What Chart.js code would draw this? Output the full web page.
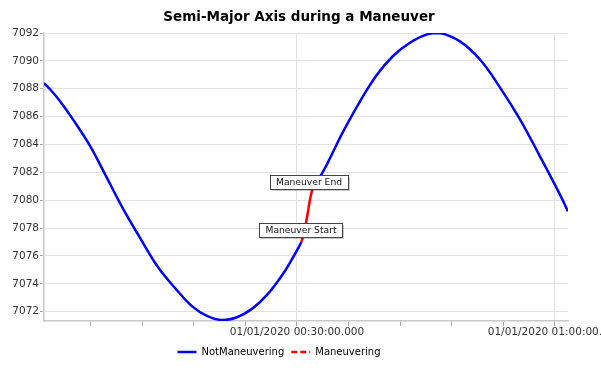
<!DOCTYPE html>
<html>
<head>
<meta charset="utf-8">
<title>Semi-Major Axis during a Maneuver</title>
<script src="https://cdn.jsdelivr.net/npm/chart.js@4.4.0/dist/chart.umd.min.js"></script>
<style>
  html, body { margin: 0; padding: 0; background: #fff; }
</style>
</head>
<body>
<canvas id="smaChart" width="601" height="373"></canvas>
<script>
// times are seconds after 01/01/2020 00:00:00, values in km
const quietTimes = [35, 91, 147, 237, 356, 474, 586, 705, 830, 949, 1067, 1172, 1277, 1381, 1486, 1591, 1702, 1800, 1831,
  1870,
  1912, 1974, 2044, 2121, 2240, 2358, 2470, 2588, 2707, 2798, 2937, 3077, 3216, 3356, 3495, 3635, 3691];
const quietValues = [7088.4, 7087.8, 7087.1, 7085.8, 7083.9, 7081.6, 7079.4, 7077.3, 7075.2, 7073.7, 7072.4, 7071.7, 7071.4, 7071.6, 7072.2, 7073.2, 7074.7, 7076.4, 7077.0,
  null,
  7081.0, 7081.9, 7083.3, 7084.9, 7087.1, 7089.0, 7090.35, 7091.3, 7091.9, 7092.0, 7091.4, 7090.1, 7088.1, 7085.8, 7083.15, 7080.4, 7079.2];

const maneuverTimes = [1831, 1852, 1872, 1892, 1912];
const maneuverValues = [7077.0, 7077.8, 7078.9, 7080.1, 7081.0];

const eventLabels = ["Maneuver Start", "Maneuver End"];
const eventTimes = [1831, 1912];
const eventValues = [7077.0, 7081.0];

const xTickTimes = [360, 720, 1080, 1440, 1800, 2160, 2520, 2880, 3240, 3600];
const xLabelTimes = [1800, 3600];
const xLabelTexts = ["01/01/2020 00:30:00.000", "01/01/2020 01:00:00.000"];

const yTickValues = [7072, 7073, 7074, 7075, 7076, 7077, 7078, 7079, 7080, 7081, 7082,
  7083, 7084, 7085, 7086, 7087, 7088, 7089, 7090, 7091, 7092];
const yLabelValues = [7072, 7074, 7076, 7078, 7080, 7082, 7084, 7086, 7088, 7090, 7092];

const toPoints = (times, values) => times.map((t, i) => ({ x: t, y: values[i] }));

Chart.defaults.font.family = "'DejaVu Sans', sans-serif";

// boxes on the event points, drawn over the curve
const eventLabelPlugin = {
  id: "eventLabels",
  afterDatasetsDraw(chart) {
    const { ctx, scales } = chart;
    const offsets = [[0, -12], [-4, -4]];
    ctx.save();
    ctx.font = "9.2px 'DejaVu Sans'";
    ctx.textAlign = "center";
    ctx.textBaseline = "middle";
    eventLabels.forEach((text, i) => {
      const cx = Math.round(scales.x.getPixelForValue(eventTimes[i]) + offsets[i][0]);
      const cy = Math.round(scales.y.getPixelForValue(eventValues[i]) + offsets[i][1]);
      const w = Math.round(ctx.measureText(text).width + 12);
      const h = 14;
      const left = cx - Math.round(w / 2) + 0.5;
      const top = cy - h / 2 + 0.5;
      ctx.fillStyle = "rgba(0,0,0,0.2)";
      ctx.fillRect(left + 1.5, top + 1.5, w, h);
      ctx.fillStyle = "#fff";
      ctx.fillRect(left, top, w, h);
      ctx.strokeStyle = "#444";
      ctx.lineWidth = 1;
      ctx.strokeRect(left, top, w, h);
      ctx.fillStyle = "#111";
      ctx.fillText(text, cx, cy + 0.5);
    });
    ctx.restore();
  },
};

// title and legend are not centred on the same line in the original
const boxShiftPlugin = {
  id: "boxShift",
  afterLayout(chart) {
    chart.titleBlock.left += 15;
    chart.titleBlock.right += 15;
    chart.legend.left -= 5;
    chart.legend.right -= 5;
  },
};

new Chart(document.getElementById("smaChart"), {
  type: "line",
  data: {
    datasets: [
      {
        label: "NotManeuvering",
        data: toPoints(quietTimes, quietValues),
        borderColor: "#0000ff",
        borderWidth: 2.5,
        pointRadius: 0,
        tension: 0.4,
        spanGaps: false,
      },
      {
        label: "Maneuvering",
        data: toPoints(maneuverTimes, maneuverValues),
        borderColor: "#ff0000",
        borderWidth: 2.5,
        pointRadius: 0,
        tension: 0.4,
      },
    ],
  },
  options: {
    responsive: false,
    animation: false,
    devicePixelRatio: 1,
    layout: { autoPadding: false, padding: { top: 0, left: 0, right: 33, bottom: 6 } },
    plugins: {
      title: {
        display: true,
        text: "Semi-Major Axis during a Maneuver",
        color: "#000",
        font: { size: 13.5, weight: "bold" },
        padding: { top: 9.5, bottom: 7.3 },
      },
      legend: {
        position: "bottom",
        labels: {
          usePointStyle: true,
          pointStyleWidth: 19,
          padding: 7,
          color: "#333",
          font: { size: 10 },
          generateLabels: (chart) =>
            chart.data.datasets.map((ds, i) => ({
              text: ds.label,
              strokeStyle: ds.borderColor,
              fillStyle: ds.borderColor,
              lineWidth: 2.5,
              lineDash: i === 1 ? [6, 3] : [],
              pointStyle: "line",
              datasetIndex: i,
              hidden: false,
            })),
        },
      },
      tooltip: { enabled: false },
    },
    scales: {
      x: {
        type: "linear",
        min: quietTimes[0],
        max: quietTimes[quietTimes.length - 1],
        afterBuildTicks: (scale) => {
          scale.ticks = xTickTimes.map((v) => ({ value: v }));
        },
        afterFit: (scale) => {
          scale.height = 19;
          scale.paddingLeft = 0;
          scale.paddingRight = 0;
        },
        ticks: {
          autoSkip: false,
          maxRotation: 0,
          minRotation: 0,
          padding: 0,
          color: "#333",
          font: { size: 10.5 },
          callback: (value) => {
            const k = xLabelTimes.indexOf(value);
            return k >= 0 ? xLabelTexts[k] : "";
          },
        },
        grid: {
          color: (ctx) => (ctx.tick && xLabelTimes.includes(ctx.tick.value) ? "#e2e2e2" : "rgba(0,0,0,0)"),
          tickColor: "#aaa",
          tickLength: 5,
        },
        border: { color: "#c8c8c8", width: 1.5 },
      },
      y: {
        min: 7071.33,
        max: 7092,
        afterBuildTicks: (scale) => {
          scale.ticks = yTickValues.map((v) => ({ value: v }));
        },
        afterFit: (scale) => {
          scale.width = 44;
          scale.paddingTop = 0;
          scale.paddingBottom = 0;
        },
        ticks: {
          padding: 1,
          color: "#333",
          font: { size: 10.5 },
          callback: (value) => (yLabelValues.includes(value) ? String(value) : ""),
        },
        grid: {
          color: (ctx) => (ctx.tick && yLabelValues.includes(ctx.tick.value) ? "#e2e2e2" : "rgba(0,0,0,0)"),
          tickColor: "#aaa",
          tickLength: 4,
        },
        border: { color: "#c8c8c8", width: 1.5 },
      },
    },
  },
  plugins: [eventLabelPlugin, boxShiftPlugin],
});
</script>
</body>
</html>
